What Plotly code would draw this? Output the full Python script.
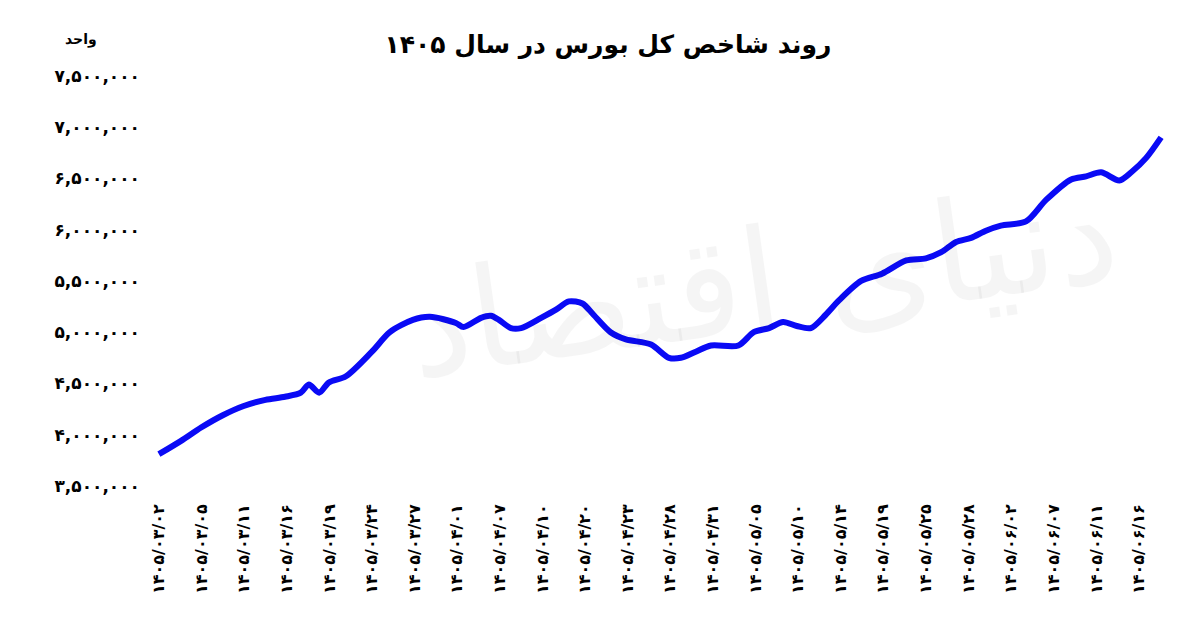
import plotly.graph_objects as go

FA = str.maketrans("0123456789", "۰۱۲۳۴۵۶۷۸۹")

date_labels = ["1405/03/02", "1405/03/05", "1405/03/11", "1405/03/16", "1405/03/19",
               "1405/03/24", "1405/03/27", "1405/04/01", "1405/04/07", "1405/04/10",
               "1405/04/20", "1405/04/23", "1405/04/28", "1405/04/31", "1405/05/05",
               "1405/05/10", "1405/05/14", "1405/05/19", "1405/05/25", "1405/05/28",
               "1405/06/02", "1405/06/07", "1405/06/11", "1405/06/16"]

# position along the axis (in label steps) and index value
pos = [0, 0.52, 0.99, 1.5, 1.99, 2.5, 2.96, 3.33, 3.52, 3.76, 3.99, 4.39, 5.0, 5.42,
       5.96, 6.36, 6.97, 7.15, 7.56, 7.79, 7.98, 8.26, 8.5, 8.97, 9.32, 9.62, 9.94,
       10.2, 10.6, 10.96, 11.55, 11.97, 12.25, 12.6, 12.96, 13.6, 13.96, 14.32, 14.65,
       14.97, 15.3, 15.65, 15.96, 16.48, 16.97, 17.54, 18.0, 18.36, 18.71, 19.06,
       19.41, 19.76, 20.35, 20.82, 21.41, 21.76, 22.11, 22.54, 22.82, 23.17, 23.52]
values = [3.81, 3.94, 4.07, 4.19, 4.28, 4.34, 4.37, 4.41, 4.49, 4.41, 4.51, 4.57, 4.81,
          5.0, 5.12, 5.15, 5.09, 5.05, 5.14, 5.16, 5.12, 5.04, 5.04, 5.14, 5.22, 5.30,
          5.28, 5.17, 5.0, 4.93, 4.88, 4.75, 4.75, 4.81, 4.87, 4.87, 5.0, 5.04, 5.10,
          5.06, 5.04, 5.17, 5.31, 5.50, 5.57, 5.70, 5.72, 5.78, 5.88, 5.92, 5.99, 6.04,
          6.08, 6.29, 6.49, 6.52, 6.56, 6.48, 6.56, 6.70, 6.90]
values = [v * 1_000_000 for v in values]

y_ticks = [3_500_000 + i * 500_000 for i in range(9)]
y_text = [f"{v:,}".translate(FA) for v in y_ticks]

fig = go.Figure()
fig.add_trace(go.Scatter(x=pos, y=values, mode="lines",
                         line=dict(color="#0a0af5", width=6, shape="spline", smoothing=0.8),
                         hoverinfo="skip"))

fig.add_annotation(text="دنیای اقتصاد", x=0.6, y=0.5, xref="paper", yref="paper",
                   showarrow=False, textangle=-8,
                   font=dict(size=140, color="rgba(0,0,0,0.04)", family="DejaVu Sans"))
fig.add_annotation(text="<b>واحد</b>", x=-0.075, y=1.07, xref="paper", yref="paper",
                   showarrow=False, font=dict(size=14, color="black", family="DejaVu Sans"))

fig.update_layout(
    width=1200, height=622, paper_bgcolor="white", plot_bgcolor="white",
    margin=dict(l=133, r=32, t=52, b=130), showlegend=False,
    font=dict(family="DejaVu Sans", color="black"),
    title=dict(text="<b>روند شاخص کل بورس در سال ۱۴۰۵</b>", x=0.5, y=0.955,
               font=dict(size=25, family="DejaVu Sans")),
    xaxis=dict(range=[-0.42, 23.87], tickmode="array", tickvals=list(range(len(date_labels))),
               ticktext=[f"<b>{d.translate(FA)}</b>" for d in date_labels], tickangle=-90,
               showgrid=False, zeroline=False, showline=False, tickfont=dict(size=16)),
    yaxis=dict(range=[3_363_000, 7_655_000], tickmode="array", tickvals=y_ticks,
               ticktext=[f"<b>{t}</b>" for t in y_text], showgrid=False, zeroline=False,
               tickfont=dict(size=17)),
)

fig.write_html("out.html")
